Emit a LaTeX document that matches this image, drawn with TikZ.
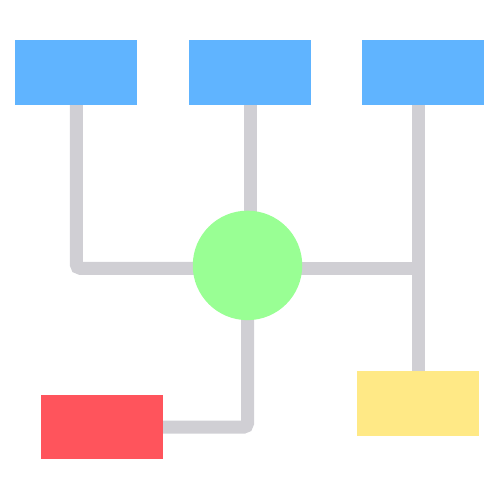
\documentclass[tikz,border=0pt]{standalone}
\usetikzlibrary{backgrounds}
\definecolor{cblue}{HTML}{60B4FF}
\definecolor{cgreen}{HTML}{99FF94}
\definecolor{cred}{HTML}{FF545C}
\definecolor{cyellow}{HTML}{FFE986}
\definecolor{cgray}{HTML}{D0CFD4}
\begin{document}
\begin{tikzpicture}[x=1pt,y=-1pt,
  boxnode/.style={rectangle,inner sep=0pt,minimum width=122pt,minimum height=64.5pt,draw=none},
  hub/.style={circle,inner sep=0pt,minimum size=109.5pt,fill=cgreen,draw=none},
  wire/.style={draw=cgray,line width=13pt,rounded corners=4pt}]
\useasboundingbox (0,0) rectangle (500,500);
\node[boxnode,fill=cblue] (b1) at (76.3,72.3) {};
\node[boxnode,fill=cblue] (b2) at (250,72.3) {};
\node[boxnode,fill=cblue] (b3) at (423.2,72.3) {};
\node[hub] (c) at (247.5,265.4) {};
\node[boxnode,fill=cred] (r) at (101.7,427.2) {};
\node[boxnode,fill=cyellow] (y) at (418.3,403.6) {};
\coordinate (hl) at (247.5,268.3);
\coordinate (hr) at (418.3,268.3);
\begin{pgfonlayer}{background}
\draw[wire] (b1.south) |- (hl);
\draw[wire] (b2.south) -- (b2.south |- c.center);
\draw[wire] (hl) -- (hr);
\draw[wire] (b3.south -| y.north) -- (y.north);
\draw[wire] (c.center) |- (r.east);
\end{pgfonlayer}
\end{tikzpicture}
\end{document}
